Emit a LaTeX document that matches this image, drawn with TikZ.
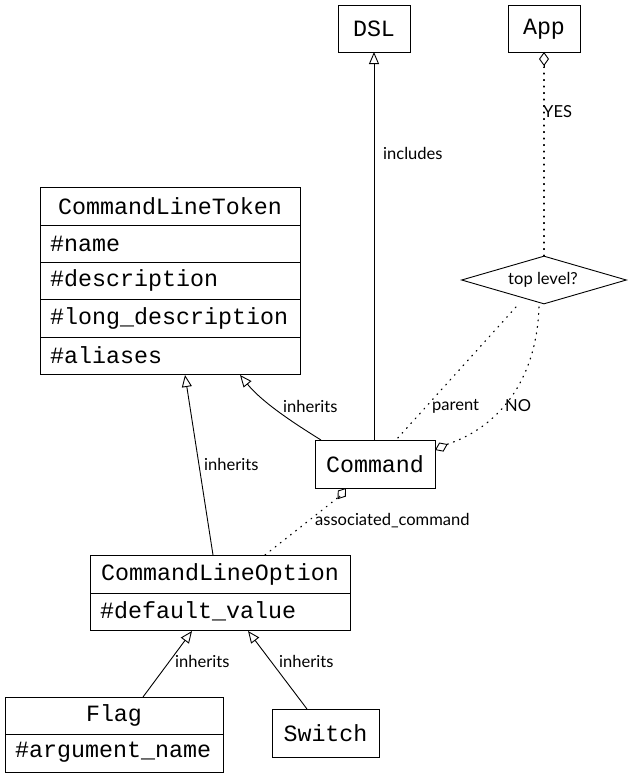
\documentclass[tikz,border=0pt]{standalone}
\usepackage{fontspec}
\setmainfont{Lato}
\setmonofont{Liberation Mono}
\usetikzlibrary{arrows.meta,shapes.geometric}
\begin{document}
\begin{tikzpicture}[x=1bp,y=-1bp,
  box/.style={draw,line width=0.9bp,inner sep=0,rectangle},
  mono/.style={font=\fontsize{23.4}{26}\selectfont\ttfamily,inner sep=0},
  lbl/.style={font=\fontsize{16.6}{18}\selectfont,inner sep=0},
  conn/.style={line width=0.9bp},
  dots/.style={line width=1.2bp,dash pattern=on 0.9bp off 5.6bp,line cap=round},
  inh/.style={-{Triangle[open,length=12bp,width=10bp,line width=0.9bp]}},
  agg/.style={-{Diamond[open,length=14bp,width=10bp,line width=0.9bp]}},
]
\useasboundingbox (0,0) rectangle (632,777);
% DSL and App
\node[box,minimum width=72bp,minimum height=47bp] (dsl) at (374,28.5) {};
\node[mono] (dslt) at (374,29) {DSL};
\node[box,minimum width=72bp,minimum height=47bp] (app) at (544,28.5) {};
\node[mono] (appt) at (544,29) {App};
% decision
\node[draw,line width=0.9bp,shape=diamond,aspect=3.44,minimum width=165bp,minimum height=48bp,inner sep=0] (top) at (544,280) {};
\node[lbl] (topt) at (543,280) {top level?};
% CommandLineToken
\node[box,minimum width=260bp,minimum height=187bp] (clt) at (170,280.5) {};
\node[mono] (cltt) at (170,206) {CommandLineToken};
\node[mono,anchor=west] (clt1) at (50,243.5) {\#name};
\node[mono,anchor=west] (clt2) at (50,280.5) {\#description};
\node[mono,anchor=west] (clt3) at (50,318) {\#long\_description};
\node[mono,anchor=west] (clt4) at (50,355.5) {\#aliases};
\draw[line width=0.9bp] (40,225) -- (300,225) (40,262) -- (300,262) (40,299) -- (300,299) (40,337) -- (300,337);
% Command
\node[box,minimum width=120bp,minimum height=48bp] (cmd) at (375,464) {};
\node[mono] (cmdt) at (375,464) {Command};
% CommandLineOption
\node[box,minimum width=260bp,minimum height=75bp] (clo) at (220,592.5) {};
\node[mono] (clot) at (220,574) {CommandLineOption};
\node[mono,anchor=west] (clo1) at (100,611) {\#default\_value};
\draw[line width=0.9bp] (90,593) -- (350,593);
% Flag
\node[box,minimum width=218bp,minimum height=75bp] (flag) at (114,734.5) {};
\node[mono] (flagt) at (114,715) {Flag};
\node[mono,anchor=west] (flag1) at (15,752) {\#argument\_name};
\draw[line width=0.9bp] (5,734) -- (223,734);
% Switch
\node[box,minimum width=107bp,minimum height=48bp] (sw) at (325.5,733) {};
\node[mono] (swt) at (325.5,733) {Switch};
% connector endpoints
\coordinate (cmdN) at (374,440);
\coordinate (dslS) at (374,52);
\coordinate (appS) at (544,52);
\coordinate (appT) at (544,67);
\coordinate (topN) at (544,256);
\coordinate (p1) at (516,307);
\coordinate (p2) at (396,440);
\coordinate (n1) at (539,307);
\coordinate (n2) at (435,450);
\coordinate (n3) at (448,444);
\coordinate (c1) at (321,440);
\coordinate (c2) at (240,375);
\coordinate (o1) at (213,555);
\coordinate (o2) at (185,375);
\coordinate (a1) at (265,555);
\coordinate (a2) at (346,488);
\coordinate (a3) at (340,496);
\coordinate (f1) at (143,697);
\coordinate (f2) at (192,631);
\coordinate (s1) at (307,709);
\coordinate (s2) at (248,631);
% connectors
\draw[conn,inh] (cmdN) -- (dslS);
\node[lbl,anchor=west] (linc) at (383,153) {includes};
\draw[dots] (topN) -- (appT);
\draw[conn,agg] (appT) -- (appS);
\node[lbl,anchor=west] (lyes) at (543,112) {YES};
\draw[dots] (p1) -- (p2);
\node[lbl,anchor=west] (lpar) at (432,406) {parent};
\draw[dots] (n1) .. controls (536,390) and (490,430) .. (n3);
\draw[conn,agg] (n3) -- (n2);
\node[lbl,anchor=west] (lno) at (505,406) {NO};
\draw[conn,inh] (c1) .. controls (292,422) and (262,402) .. (c2);
\node[lbl,anchor=west] (linh1) at (283,406) {inherits};
\draw[conn,inh] (o1) -- (o2);
\node[lbl,anchor=west] (linh2) at (204,464) {inherits};
\draw[dots] (a1) -- (a3);
\draw[conn,agg] (a3) -- (a2);
\node[lbl,anchor=west] (lass) at (315,521) {associated\_command};
\draw[conn,inh] (f1) -- (f2);
\node[lbl,anchor=west] (linh3) at (175,661) {inherits};
\draw[conn,inh] (s1) -- (s2);
\node[lbl,anchor=west] (linh4) at (279,661) {inherits};
\end{tikzpicture}
\end{document}
